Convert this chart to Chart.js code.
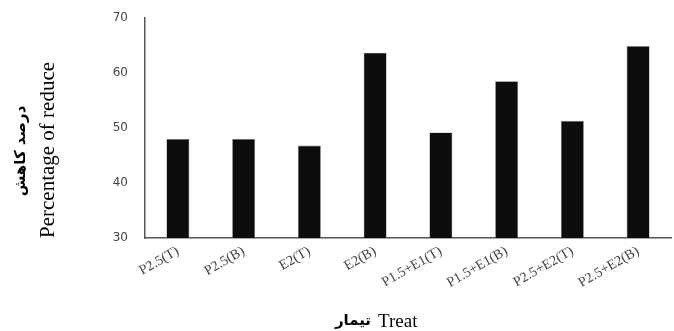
<!DOCTYPE html>
<html>
<head>
<meta charset="utf-8">
<script src="https://cdn.jsdelivr.net/npm/chart.js@4/dist/chart.umd.min.js"></script>
<style>
  html, body { margin: 0; padding: 0; background: #fff; }
  #wrap { width: 674px; height: 331px; }
</style>
</head>
<body>
<div id="wrap"><canvas id="myChart"></canvas></div>
<script>
const treatments = ['P2.5(T)', 'P2.5(B)', 'E2(T)', 'E2(B)', 'P1.5+E1(T)', 'P1.5+E1(B)', 'P2.5+E2(T)', 'P2.5+E2(B)']
const reduce = [48.0, 48.0, 46.8, 63.7, 49.2, 58.5, 51.3, 64.9]
const yTicks = [30, 40, 50, 60, 70]

// x title (persian + english) and persian part of the y title
const axisTitles = {
  id: 'axisTitles',
  afterDraw(chart) {
    const ctx = chart.ctx
    ctx.save()
    ctx.fillStyle = '#000'
    ctx.textBaseline = 'middle'
    ctx.font = 'bold 15px "DejaVu Sans"'
    ctx.save()
    ctx.translate(21, 151)
    ctx.rotate(-Math.PI / 2)
    ctx.textAlign = 'center'
    ctx.fillText('درصد کاهش', 0, 0)
    ctx.restore()
    ctx.textAlign = 'right'
    ctx.fillText('تیمار', 371, 321)
    ctx.textAlign = 'left'
    ctx.font = '19px "Liberation Serif"'
    ctx.fillText('Treat', 378, 322)
    ctx.restore()
  },
}

const ctx = document.getElementById('myChart').getContext('2d')

const myChart = new Chart(ctx, {
  type: 'bar',
  data: {
    labels: treatments,
    datasets: [
      {
        label: 'Percentage of reduce',
        data: reduce,
        backgroundColor: '#0d0d0d',
        borderColor: '#888',
        borderWidth: 0.6,
        barPercentage: 0.35,
        categoryPercentage: 1,
      },
    ],
  },
  options: {
    responsive: true,
    maintainAspectRatio: false,
    animation: false,
    layout: { padding: { top: 18, right: 3, left: 0, bottom: 0 } },
    scales: {
      y: {
        min: yTicks[0],
        max: yTicks[yTicks.length - 1],
        afterBuildTicks: (s) => {
          s.ticks = yTicks.map((v) => ({ value: v }))
        },
        afterFit: (s) => {
          s.width = 145
          s.paddingTop = 0
          s.paddingBottom = 0
        },
        grid: { display: false, drawTicks: false },
        border: { display: true, color: '#555', width: 1.5 },
        ticks: {
          padding: 17,
          color: '#444',
          font: { family: 'DejaVu Sans', size: 12 },
        },
        title: {
          display: true,
          text: 'Percentage of reduce',
          align: 'start',
          color: '#000',
          padding: { top: 36, bottom: 0 },
          font: { family: 'Liberation Serif', size: 21 },
        },
      },
      x: {
        afterFit: (s) => {
          s.height = 93
          s.paddingLeft = 0
          s.paddingRight = 0
        },
        grid: { display: false, drawTicks: false },
        border: { display: true, color: '#555', width: 1.5 },
        ticks: {
          padding: 5,
          minRotation: 30,
          maxRotation: 30,
          color: '#444',
          font: { family: 'Liberation Serif', size: 14 },
        },
      },
    },
    plugins: {
      legend: { display: false },
      tooltip: { enabled: false },
    },
  },
  plugins: [axisTitles],
})
</script>
</body>
</html>
